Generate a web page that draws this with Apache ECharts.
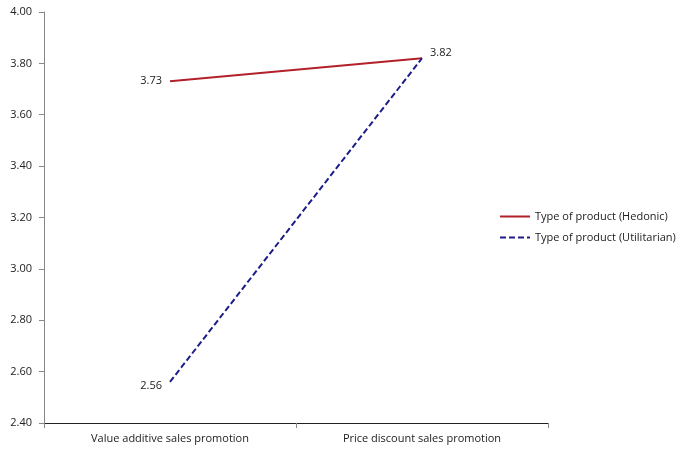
<!doctype html>
<html>
<head>
<meta charset="utf-8">
<title>Sales promotion chart</title>
<script src="https://cdn.jsdelivr.net/npm/echarts@6/dist/echarts.min.js"></script>
<style>
html, body { margin: 0; padding: 0; background: #fff; }
#main { width: 682px; height: 452px; }
</style>
</head>
<body>
<div id="main"></div>
<script>
// categories and values
var categories = ['Value additive sales promotion', 'Price discount sales promotion'];
var hedonic = [3.73, 3.82];
var utilitarian = [2.56, 3.82];
var seriesNames = ['Type of product (Hedonic)', 'Type of product (Utilitarian)'];

var myChart = echarts.init(document.getElementById('main'));
var font = '"Open Sans", "Noto Sans", sans-serif';

var option = {
    animation: false,
    textStyle: { fontFamily: font },
    grid: { left: 44, right: 134, top: 12, bottom: 29 },
    legend: {
        orient: 'vertical',
        left: 494,
        top: 206,
        itemWidth: 30,
        itemHeight: 10,
        itemGap: 10,
        itemStyle: { opacity: 0 },
        textStyle: { fontSize: 11, color: '#222', fontFamily: font },
        data: seriesNames
    },
    xAxis: {
        type: 'category',
        data: categories,
        boundaryGap: true,
        axisLine: { lineStyle: { color: '#222', width: 1 } },
        axisTick: { show: true, length: 5, lineStyle: { color: '#888' } },
        axisLabel: { color: '#222', fontSize: 11, margin: 10 },
        splitLine: { show: false }
    },
    yAxis: {
        type: 'value',
        min: 2.4,
        max: 4.0,
        interval: 0.2,
        axisLine: { show: true, lineStyle: { color: '#888' } },
        axisTick: { show: true, length: 5, lineStyle: { color: '#888' } },
        axisLabel: {
            color: '#222', fontSize: 11, margin: 12,
            formatter: function (v) { return v.toFixed(2); }
        },
        splitLine: { show: false }
    },
    series: [
        {
            name: seriesNames[0],
            type: 'line',
            data: hedonic,
            symbol: 'none',
            lineStyle: { color: '#b3202a', width: 2 },
            itemStyle: { color: '#b3202a' },
            markPoint: {
                symbol: 'circle', symbolSize: 0,
                label: { show: true, color: '#222', fontSize: 11, fontFamily: font,
                    formatter: function (p) { return p.value.toFixed(2); } },
                data: [
                    { coord: [0, hedonic[0]], value: hedonic[0], label: { position: 'left', distance: 8 } },
                    { coord: [1, hedonic[1]], value: hedonic[1], label: { position: 'right', distance: 8, offset: [0, -5] } }
                ]
            }
        },
        {
            name: seriesNames[1],
            type: 'line',
            data: utilitarian,
            symbol: 'none',
            lineStyle: { color: '#1c1c8a', width: 2, type: [6, 3] },
            itemStyle: { color: '#1c1c8a' },
            markPoint: {
                symbol: 'circle', symbolSize: 0,
                label: { show: true, color: '#222', fontSize: 11, fontFamily: font,
                    formatter: function (p) { return p.value.toFixed(2); } },
                data: [
                    { coord: [0, utilitarian[0]], value: utilitarian[0], label: { position: 'left', distance: 8, offset: [0, 4] } }
                ]
            }
        }
    ]
};

myChart.setOption(option);
</script>
</body>
</html>
